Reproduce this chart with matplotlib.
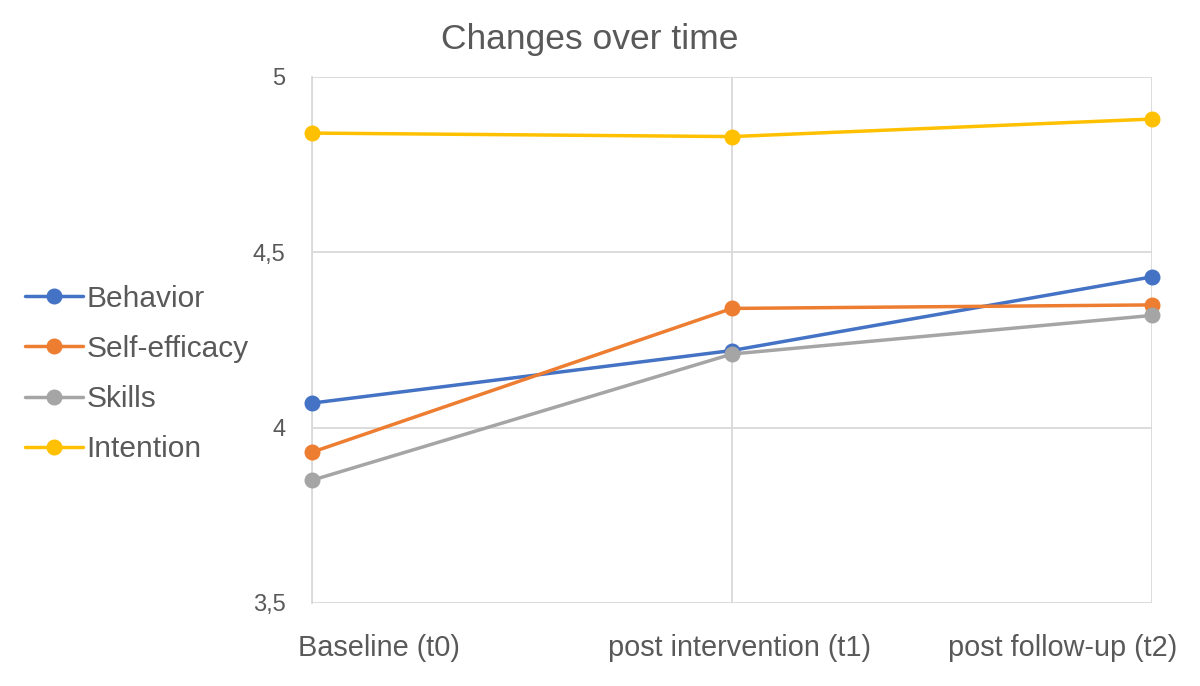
import matplotlib
matplotlib.use("Agg")
import matplotlib.pyplot as plt
from matplotlib.transforms import ScaledTranslation

plt.rcParams["font.family"] = ["Liberation Sans", "DejaVu Sans"]

categories = ["Baseline (t0)", "post intervention (t1)", "post follow-up (t2)"]
behavior = [4.07, 4.22, 4.43]
self_efficacy = [3.93, 4.34, 4.35]
skills = [3.85, 4.21, 4.32]
intention = [4.84, 4.83, 4.88]

series = [
    ("Behavior", behavior, "#4472C4"),
    ("Self-efficacy", self_efficacy, "#ED7D31"),
    ("Skills", skills, "#A5A5A5"),
    ("Intention", intention, "#FFC000"),
]

yticks = [3.5, 4, 4.5, 5]
ytick_labels = ["3,5", "4", "4,5", "5"]

text_col = "#595959"
grid_col = "#D9D9D9"

fig = plt.figure(figsize=(12, 6.86), dpi=100)
ax = fig.add_axes([0.26, 0.121, 0.70, 0.7668])

x = list(range(len(categories)))
for name, vals, col in series:
    ax.plot(x, vals, color=col, lw=2.5, marker="o", ms=10.5, label=name,
            solid_capstyle="round", zorder=3, clip_on=False)

ax.set_xlim(0, 2)
ax.set_ylim(3.5, 5)
ax.set_yticks(yticks)
ax.set_yticklabels(ytick_labels)
ax.set_xticks(x)
ax.set_xticklabels(categories)
ax.tick_params(axis="y", length=0, pad=19, labelsize=17, labelcolor=text_col)
ax.tick_params(axis="x", length=0, pad=22.5, labelsize=20.8, labelcolor=text_col)

# Excel squeezes the edge labels inside the figure
shifts = [(-14, "left"), (7, "center"), (25, "right")]
for lab, (dx, ha) in zip(ax.get_xticklabels(), shifts):
    lab.set_ha(ha)
    lab.set_transform(lab.get_transform() + ScaledTranslation(dx / 100, 0, fig.dpi_scale_trans))

ax.grid(True, color=grid_col, lw=1.3)
ax.set_axisbelow(True)
for s in ["top", "right", "bottom"]:
    ax.spines[s].set_visible(False)
ax.spines["left"].set_color(grid_col)
ax.spines["left"].set_linewidth(1.3)

fig.text(590 / 1200, 1 - 40 / 686, "Changes over time", ha="center", va="center",
         fontsize=25.5, color=text_col)

fig.legend(loc="center left", bbox_to_anchor=(25 / 1200, 1 - 374 / 686),
           frameon=False, fontsize=21.5, handlelength=1.95, handletextpad=0.1,
           labelspacing=0.74, borderpad=0, borderaxespad=0, labelcolor=text_col)

fig.savefig("out.png", dpi=100)
